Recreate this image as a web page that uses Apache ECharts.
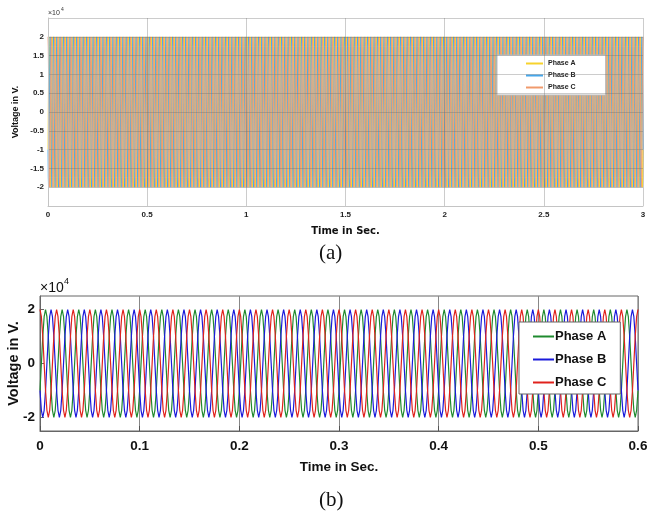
<!DOCTYPE html>
<html lang="en">
<head>
    <meta charset="UTF-8">
    <title>Three phase voltage</title>
    <script src="https://cdn.jsdelivr.net/npm/echarts@6/dist/echarts.min.js"></script>
    <style>
        body { margin: 0; background: #fff; }
    </style>
</head>
<body>
    <div id="main" style="width: 648px;height:518px;"></div>
    <script>
        // one period of each phase, as a fraction of the peak
        var cycleShape = [1, 0.866, 0.5, 0, -0.5, -0.866, -1, -0.866, -0.5, 0, 0.5, 0.866];
        var phaseNames = ['Phase A', 'Phase B', 'Phase C'];
        var phaseShift = [4, 8, 0];          // samples of delay for A, B, C (C peaks at t = 0)
        var peakVolt = 20000;

        var colorsTop = ['#f7d22c', '#45a6ea', '#f09a6c'];
        var colorsBottom = ['#1f8a2e', '#1a1adb', '#e0221c'];

        var topTicksY = [-2, -1.5, -1, -0.5, 0, 0.5, 1, 1.5, 2];
        var bottomTicksY = [-2, 0, 2];

        var topSeconds = 3, topCycles = 180;
        var bottomSeconds = 0.6, bottomCycles = 36;

        function wave(cycles, seconds, shift) {
            var n = cycles * cycleShape.length;
            var pts = [];
            for (var k = 0; k <= n; k++) {
                var idx = ((k - shift) % cycleShape.length + cycleShape.length) % cycleShape.length;
                pts.push([k * seconds / n, peakVolt * cycleShape[idx]]);
            }
            return pts;
        }

        var myChart = echarts.init(document.getElementById('main'));

        var series = [];
        phaseNames.forEach(function (name, i) {
            series.push({
                name: name, type: 'line', xAxisIndex: 0, yAxisIndex: 0,
                symbol: 'none', lineStyle: { width: 0.9, color: colorsTop[i] },
                itemStyle: { color: colorsTop[i] },
                data: wave(topCycles, topSeconds, phaseShift[i])
            });
        });
        phaseNames.forEach(function (name, i) {
            series.push({
                name: name + ' ', type: 'line', xAxisIndex: 1, yAxisIndex: 1,
                symbol: 'none', lineStyle: { width: 1.2, color: colorsBottom[i] },
                itemStyle: { color: colorsBottom[i] },
                data: wave(bottomCycles, bottomSeconds, phaseShift[i])
            });
        });

        var sans = '"Liberation Sans", Arial, sans-serif';

        var option = {
            animation: false,
            grid: [
                { left: 48, right: 5, top: 18, height: 188, outerBoundsMode: 'none', containLabel: false },
                { left: 40, right: 10, top: 296, height: 135, outerBoundsMode: 'none', containLabel: false,
                  show: true, borderColor: '#666', borderWidth: 1 }
            ],
            legend: [
                {
                    data: phaseNames, orient: 'vertical', left: 497, top: 55,
                    padding: [5, 30, 4, 29], itemGap: 5, itemWidth: 17, itemHeight: 2, icon: 'rect',
                    backgroundColor: '#fff', borderColor: '#bbb', borderWidth: 1, borderRadius: 0,
                    textStyle: { fontFamily: sans, fontWeight: 'bold', fontSize: 7, color: '#222' }
                },
                {
                    data: phaseNames.map(function (n) { return n + ' '; }),
                    orient: 'vertical', left: 519, top: 322,
                    padding: [8, 14, 5, 14], itemGap: 10, itemWidth: 21, itemHeight: 2, icon: 'rect',
                    backgroundColor: '#fff', borderColor: '#666', borderWidth: 1, borderRadius: 0,
                    formatter: function (n) { return n.trim(); },
                    textStyle: { fontFamily: sans, fontWeight: 'bold', fontSize: 13, color: '#111', padding: [0, 0, 0, -4] }
                }
            ],
            xAxis: [
                {
                    type: 'value', gridIndex: 0, min: 0, max: 3, interval: 0.5, z: 5,
                    name: 'Time in Sec.', nameLocation: 'middle', nameGap: 20,
                    nameTextStyle: { fontFamily: 'DejaVu Sans', fontWeight: 'bold', fontSize: 10, color: '#111' },
                    axisLine: { onZero: false, lineStyle: { color: '#c4c4c4' } },
                    axisTick: { show: false },
                    axisLabel: { fontFamily: sans, fontWeight: 'bold', fontSize: 8, color: '#222', margin: 5 },
                    splitLine: { lineStyle: { color: 'rgba(110,110,110,0.35)' } }
                },
                {
                    type: 'value', gridIndex: 1, min: 0, max: 0.6, interval: 0.1,
                    name: 'Time in Sec.', nameLocation: 'middle', nameGap: 29,
                    nameTextStyle: { fontFamily: sans, fontWeight: 'bold', fontSize: 13.5, color: '#111' },
                    axisLine: { onZero: false, lineStyle: { color: '#666' } },
                    axisTick: { inside: true, length: 5, lineStyle: { color: '#555' } },
                    axisLabel: {
                        fontFamily: sans, fontWeight: 'bold', fontSize: 13.5, color: '#111', margin: 8,
                        formatter: function (v) { return v === 0 ? '0' : v.toFixed(1); }
                    },
                    splitLine: { lineStyle: { color: '#888' } }
                }
            ],
            yAxis: [
                {
                    type: 'value', gridIndex: 0, min: -25000, max: 25000, interval: 5000, z: 5,
                    name: 'Voltage in V.', nameLocation: 'middle', nameGap: 28, nameMoveOverlap: false,
                    nameTextStyle: { fontFamily: sans, fontWeight: 'bold', fontSize: 9, color: '#111' },
                    axisLine: { show: true, onZero: false, lineStyle: { color: '#c4c4c4' } },
                    axisTick: { show: false },
                    axisLabel: {
                        fontFamily: sans, fontWeight: 'bold', fontSize: 8, color: '#222', margin: 4,
                        customValues: topTicksY.map(function (v) { return v * 10000; }),
                        formatter: function (v) { return String(v / 10000); }
                    },
                    splitLine: { lineStyle: { color: 'rgba(110,110,110,0.35)' } }
                },
                {
                    type: 'value', gridIndex: 1, min: -25000, max: 25000, interval: 5000,
                    name: 'Voltage in V.', nameLocation: 'middle', nameGap: 19, nameMoveOverlap: false,
                    nameTextStyle: { fontFamily: sans, fontWeight: 'bold', fontSize: 14.5, color: '#111' },
                    axisLine: { show: true, onZero: false, lineStyle: { color: '#666' } },
                    axisTick: { inside: true, length: 4, customValues: bottomTicksY.map(function (v) { return v * 10000; }) },
                    axisLabel: {
                        fontFamily: sans, fontWeight: 'bold', fontSize: 13.5, color: '#111', margin: 5,
                        customValues: bottomTicksY.map(function (v) { return v * 10000; }),
                        formatter: function (v) { return String(v / 10000); }
                    },
                    splitLine: { show: false }
                }
            ],
            graphic: [
                { type: 'text', left: 48, top: 10, style: { text: '×10', fontSize: 7, fontFamily: sans, fill: '#333' } },
                { type: 'text', left: 61, top: 7, style: { text: '4', fontSize: 5, fontFamily: sans, fill: '#333' } },
                { type: 'text', left: 40, top: 281, style: { text: '×10', fontSize: 14, fontFamily: sans, fill: '#111' } },
                { type: 'text', left: 64, top: 277, style: { text: '4', fontSize: 9, fontFamily: sans, fill: '#111' } },
                { type: 'text', left: 319, top: 243, style: { text: '(a)', fontSize: 21, fontFamily: 'Liberation Serif', fill: '#111' } },
                { type: 'text', left: 319, top: 490, style: { text: '(b)', fontSize: 21, fontFamily: 'Liberation Serif', fill: '#111' } }
            ],
            series: series
        };
        myChart.setOption(option);
    </script>
</body>
</html>
